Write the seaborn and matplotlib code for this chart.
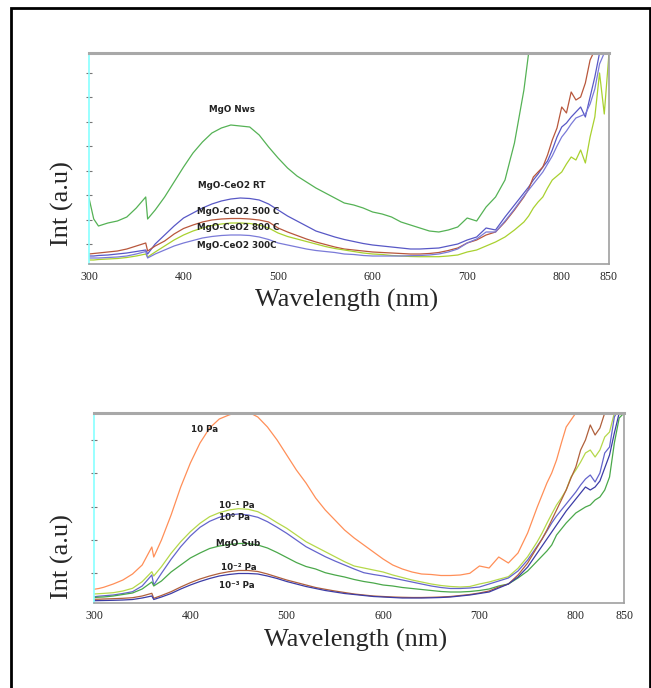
import numpy as np
import pandas as pd
import matplotlib.pyplot as plt
import seaborn as sns
from matplotlib.patches import Rectangle

nan = np.nan

# shared wavelength grid (nm)
wavelength = [300, 305, 310, 320, 330, 340, 350, 360, 362] + list(range(370, 761, 10)) + list(range(765, 851, 5))

# ---- upper panel (intensity, a.u.)
mgo_nws = [66, 45, 38, 41, 43, 47, 56, 67, 45,
           54, 67, 82, 97, 111, 122, 131, 136, 139, 138,
           137, 129, 117, 106, 96, 88, 82, 76, 71, 66,
           61, 59, 56, 52, 50, 47, 42, 39, 36, 33,
           32, 34, 37, 46, 43, 57, 67, 84, 121, 174,
           211, 250] + [nan] * 16
ceo2_rt = [8, 8, 8.5, 9, 10, 11, 12.5, 14, 10,
           20, 29, 38, 46, 51, 56, 60, 63, 65, 66,
           65.5, 64, 60, 54, 48, 43, 38, 33, 30, 27,
           24.5, 22.5, 20.5, 19, 18, 17, 16, 15, 15, 15.5,
           16, 18, 20, 24, 27, 36, 34, 47, 59, 71,
           77, 84, 90, 97, 103, 114, 127, 137, 141, 147, 152, 157, 147, 167, 187, 211, 240, nan]
ceo2_500 = [10, 10.5, 11, 12, 13, 15, 18, 21, 13,
            18, 23, 30, 35.5, 39, 42, 44, 45, 45.5, 45.5,
            45, 44, 42, 36, 32, 28.5, 25, 22, 19.5, 17,
            15, 14, 13, 12, 11.5, 11, 10.5, 10, 10, 10.5,
            11.5, 13.5, 16, 21, 24, 29, 32, 42, 54, 67,
            75, 87, 92, 97, 109, 124, 136, 157, 151, 172, 164, 167, 181, 204, 214, 240, nan, nan]
ceo2_800 = [4, 4, 4.5, 5, 5.5, 6.5, 8, 10, 7,
            12, 18, 24, 29, 33, 36, 38.5, 40, 41, 41,
            40.5, 39, 36, 31, 27.5, 25, 22.5, 20, 17.5, 15.5,
            14, 12.5, 11, 10, 9.5, 8.5, 8, 7.5, 7.3, 7.3,
            7.3, 8, 9, 12, 14, 18, 22, 27, 34, 42,
            48, 56, 62, 67, 76, 84, 88, 92, 100, 107, 104, 114, 101, 127, 147, 191, 150, 211]
ceo2_300 = [6, 6, 6, 6.5, 7, 8, 10, 12.5, 6,
            10, 14, 18, 21, 23.5, 26, 27.5, 28.5, 29, 29,
            28.5, 27, 24.5, 21, 19, 17, 15, 13.5, 12.5, 11.5,
            10, 9.5, 8.5, 8, 8, 8, 8, 8.3, 8.5, 9,
            10, 12, 15, 21, 25, 32, 32, 43, 55, 68,
            74, 80, 86, 92, 100, 108, 118, 127, 133, 140, 146, 148, 150, 160, 175, 200, 211, 240]

# ---- lower panel (intensity, a.u.)
pa_10 = [13.7, 14.5, 15.7, 19, 23, 29, 38, 56, 46,
         63, 88, 116, 140, 160, 175, 184, 188, 191, 191,
         186, 176, 163, 148, 133, 120, 105, 93, 83, 73,
         65, 58, 51, 44, 38, 34, 31, 29, 28.5, 27.5,
         27.5, 28, 29.7, 37, 35, 46, 40, 50, 70, 96,
         108, 120, 130, 143, 160, 176, 183, 190, 216] + [nan] * 9
pa_01 = [9, 9.3, 9.6, 10.3, 12, 14.7, 21.3, 31.3, 27,
         36.3, 49.7, 61.3, 71.3, 79.7, 86.3, 90.3, 93, 94.3, 93.7,
         91.3, 86.3, 80.3, 74.7, 68, 61.3, 56.3, 51.3, 46.3, 41.3,
         37, 35, 33, 31, 28, 25.5, 23, 21, 19, 17.5,
         16.5, 16, 16.5, 19, 21, 23.7, 26.3, 34.7, 46.3, 61.3,
         70, 79.7, 89, 98, 105, 113, 126, 133, 141, 150, 153, 146, 153, 166, 171, 190, 196, 200]
pa_00 = [6.3, 6.8, 7.2, 8, 9.5, 11.3, 17, 28, 18,
         29.7, 43.7, 56.3, 67, 75.7, 81.7, 85.7, 88, 89, 88,
         85.7, 81.3, 75.7, 69.7, 63, 56.3, 51.3, 46.3, 42, 38,
         34, 30.3, 28.5, 27, 25, 23, 21, 19, 17, 15.5,
         14.5, 14.5, 15, 16, 19, 22, 25, 32, 43, 57,
         64, 72, 80, 87, 93, 99, 105, 111, 118, 124, 128, 121, 130, 150, 156, 186, 195, 200]
mgo_sub = [5.5, 5.8, 6, 7, 8.5, 10, 14, 21, 17,
           22, 31, 38, 45, 50, 54.5, 57, 58.5, 59.5, 59.5,
           58, 55, 50.5, 45.5, 40.5, 36.5, 34, 30.3, 28, 26,
           23.5, 21.5, 20, 18, 17, 15.5, 14.5, 13.5, 12.5, 11.5,
           11, 11, 11.5, 12.5, 14, 17, 19, 25, 32, 42,
           47, 52, 58, 68, 74, 80, 85, 90, 93, 96, 98, 103, 106, 113, 126, 160, 185, 190]
pa_02 = [3.7, 3.8, 4, 4.3, 4.7, 5.3, 7, 9.7, 4.7,
         7.5, 11.3, 16, 20.3, 24, 27, 29.5, 31.3, 32.5, 32.5,
         31.5, 29, 26, 23, 20.5, 18, 15.5, 13.7, 12, 10.5,
         9, 8, 7, 6.5, 6, 5.7, 5.5, 5.5, 5.7, 6,
         6.5, 7.5, 8.5, 10, 12, 16, 19, 28, 40, 56,
         64, 73, 83, 93, 103, 113, 125, 136, 153, 163, 178, 168, 175, 190, 205, nan, nan, nan]
pa_03 = [2.3, 2.4, 2.5, 2.7, 3, 3.5, 5, 7, 3.5,
         6, 9.5, 14, 18, 21.5, 24.5, 27, 28.5, 29.5, 29.5,
         29, 27, 24.5, 21.5, 19, 16.5, 14.5, 12.5, 11, 9.5,
         8.5, 7.5, 6.5, 6, 5.5, 5, 5, 5, 5.2, 5.5,
         6, 7, 8, 9.5, 11, 15, 19, 26, 36, 50,
         57, 64, 71, 78, 85, 92, 98, 104, 110, 116, 113, 116, 122, 135, 148, 170, 190, 200]

top_series = [(mgo_nws, '#55b255'), (ceo2_rt, '#5858c6'), (ceo2_500, '#b8573c'),
              (ceo2_800, '#a9d12f'), (ceo2_300, '#7a7ad8')]
top_labels = [('MgO Nws', 427, 155), ('MgO-CeO2 RT', 415, 78), ('MgO-CeO2 500 C', 414, 52),
              ('MgO-CeO2 800 C', 414, 36), ('MgO-CeO2 300C', 414, 18)]
bot_series = [(pa_10, '#ff8f58'), (pa_01, '#b5d84a'), (pa_00, '#6464cc'),
              (mgo_sub, '#4aa84a'), (pa_02, '#b0603c'), (pa_03, '#3c3ca6')]
bot_labels = [('10 Pa', 401, 173), ('10\u207b\u00b9 Pa', 430, 98), ('10\u2070 Pa', 430, 85),
              ('MgO Sub', 427, 59), ('10\u207b\u00b2 Pa', 432, 35), ('10\u207b\u00b3 Pa', 430, 18)]

sns.set_style('white')
plt.rcParams['font.family'] = ['Liberation Serif', 'DejaVu Serif']

fig = plt.figure(figsize=(6.51, 6.88), dpi=100)
W, H = 651, 688


def panel(rect, series, labels, ymax, ytick0, ystep, nyt):
    ax = fig.add_axes([rect[0] / W, 1 - rect[3] / H, (rect[2] - rect[0]) / W, (rect[3] - rect[1]) / H])
    for vals, col in series:
        sns.lineplot(x=wavelength, y=vals, ax=ax, color=col, lw=0.9, estimator=None, sort=False)
    for txt, lx, ly in labels:
        ax.text(lx, ly, txt, fontsize=6.3, fontweight='bold', family='DejaVu Sans',
                color='#222222', ha='left', va='center')
    ax.set_xlim(300, 850)
    ax.set_ylim(0, ymax)
    ax.set_xticks([300, 400, 500, 600, 700, 800, 850])
    ax.set_yticks([ytick0 + ystep * k for k in range(nyt)])
    ax.set_yticklabels([])
    ax.tick_params(axis='x', direction='in', length=4, color='#888888', labelsize=8.5, pad=5)
    ax.tick_params(axis='y', direction='inout', length=4, color='#777777', left=True)
    ax.set_xlabel('')
    ax.set_ylabel('')
    ax.spines['top'].set_color('#a8a8a8')
    ax.spines['top'].set_linewidth(2.2)
    ax.spines['right'].set_color('#a0a0a0')
    ax.spines['bottom'].set_color('#a0a0a0')
    ax.spines['left'].set_color('#88ffff')
    for s in ['right', 'bottom', 'left']:
        ax.spines[s].set_linewidth(1.2)
    return ax


ax1 = panel((89, 53, 609, 264), top_series, top_labels, 211, 20, 24.5, 8)
ax2 = panel((94, 413, 624, 603), bot_series, bot_labels, 190, 29.7, 33.3, 5)

fig.text(62 / W, 1 - 204 / H, 'Int (a.u)', rotation=90, fontsize=19, ha='center', va='center')
fig.text(62 / W, 1 - 557 / H, 'Int (a.u)', rotation=90, fontsize=19, ha='center', va='center')
fig.text(347 / W, 1 - 300 / H, 'Wavelength (nm)', fontsize=19, ha='center', va='center')
fig.text(356 / W, 1 - 640 / H, 'Wavelength (nm)', fontsize=19, ha='center', va='center')

fig.patches.append(Rectangle((11 / W, -0.02), 639 / W, 1 - 8 / H + 0.02, transform=fig.transFigure,
                             fill=False, edgecolor='black', lw=2))

fig.savefig('out.png', dpi=100)
